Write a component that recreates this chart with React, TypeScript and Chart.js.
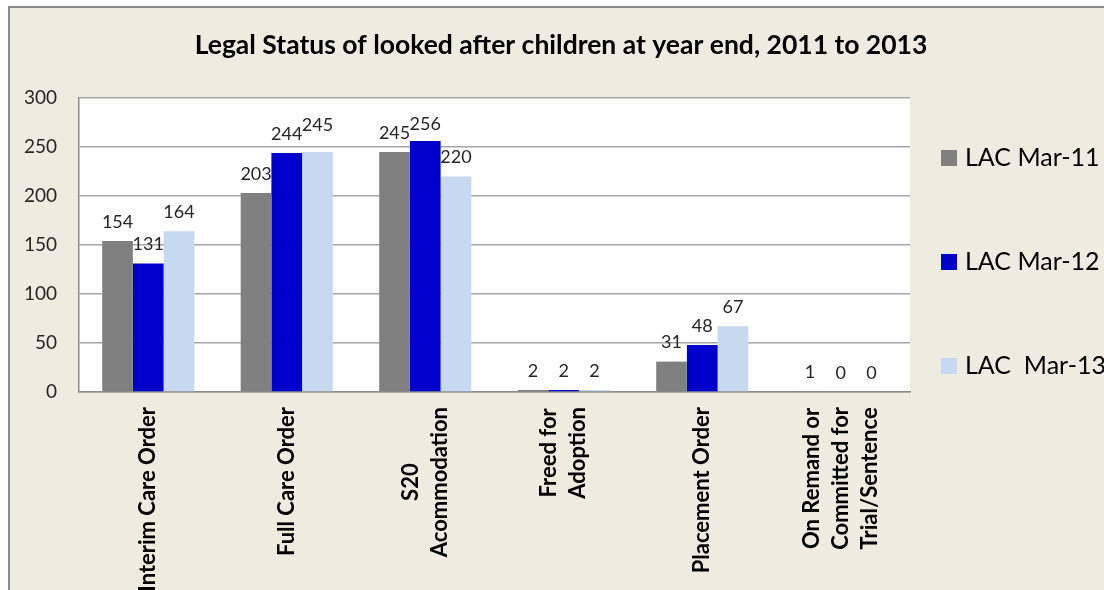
import React, { useEffect, useRef } from "react";
import { Chart, registerables } from "chart.js";

Chart.register(...registerables);

const categories: string[][] = [
  ["Interim Care Order"],
  ["Full Care Order"],
  ["S20", "Acommodation"],
  ["Freed for", "Adoption"],
  ["Placement Order"],
  ["On Remand or", "Committed for", "Trial/Sentence"],
];
const seriesNames = ["LAC Mar-11", "LAC Mar-12", "LAC  Mar-13"];
const lacMar11 = [154, 203, 245, 2, 31, 1];
const lacMar12 = [131, 244, 256, 2, 48, 0];
const lacMar13 = [164, 245, 220, 2, 67, 0];
const seriesColors = ["#808080", "#0000CC", "#C6D9F1"];
const yMin = 0;
const yMax = 300;
const yStep = 50;
const titleText = "Legal Status of looked after children at year end, 2011 to 2013";

const FONT = "Lato, 'Noto Sans', sans-serif";
const W = 1094;
const H = 582;

const customDraw = {
  id: "customDraw",
  beforeDraw(chart: any) {
    const { ctx, chartArea } = chart;
    ctx.save();
    ctx.fillStyle = "#FFFFFF";
    ctx.fillRect(chartArea.left, chartArea.top, chartArea.right - chartArea.left, chartArea.bottom - chartArea.top);
    ctx.restore();
  },
  afterDraw(chart: any) {
    const { ctx, chartArea } = chart;
    ctx.save();
    // title
    ctx.fillStyle = "#000000";
    ctx.font = `bold 26.5px ${FONT}`;
    ctx.textAlign = "center";
    ctx.textBaseline = "middle";
    ctx.fillText(titleText, 551, 37);

    // data labels, nudged upward when they would touch a neighbour
    ctx.font = `18px ${FONT}`;
    ctx.fillStyle = "#262626";
    const nSeries = chart.data.datasets.length;
    const nCats = categories.length;
    for (let j = 0; j < nCats; j++) {
      let prev: { right: number; y: number } | null = null;
      for (let i = 0; i < nSeries; i++) {
        const ds = chart.data.datasets[i];
        const el = chart.getDatasetMeta(i).data[j] as any;
        const txt = String(ds.data[j]);
        const w = ctx.measureText(txt).width;
        let y = el.y - 19;
        const left = el.x - w / 2;
        if (prev && left - prev.right < 5 && Math.abs(prev.y - y) < 12) {
          y = prev.y - 9;
        }
        ctx.fillText(txt, el.x, y);
        prev = { right: el.x + w / 2, y };
      }
    }

    // category labels (rotated)
    const xScale = chart.scales.x;
    ctx.font = `bold 22px ${FONT}`;
    ctx.fillStyle = "#000000";
    const lineH = 29;
    const top = chartArea.bottom + 15;
    categories.forEach((lines, i) => {
      const cx = xScale.getPixelForValue(i);
      const maxW = Math.max(...lines.map((l) => ctx.measureText(l).width));
      const yc = top + maxW / 2;
      lines.forEach((line, k) => {
        const lx = cx + (k - (lines.length - 1) / 2) * lineH;
        ctx.save();
        ctx.translate(lx, yc);
        ctx.rotate(-Math.PI / 2);
        ctx.textAlign = "center";
        ctx.textBaseline = "middle";
        ctx.fillText(line, 0, 0);
        ctx.restore();
      });
    });

    // legend
    ctx.font = `25px ${FONT}`;
    ctx.textAlign = "left";
    ctx.textBaseline = "middle";
    seriesNames.forEach((name, i) => {
      const y = 150 + i * 104;
      ctx.fillStyle = seriesColors[i];
      ctx.fillRect(931, y - 8, 16, 16);
      ctx.fillStyle = "#000000";
      ctx.fillText(name, 955, y);
    });
    ctx.restore();
  },
};

export default function App() {
  const ref = useRef<HTMLCanvasElement | null>(null);
  useEffect(() => {
    document.body.style.overflow = "hidden";
    const chart = new Chart(ref.current as HTMLCanvasElement, {
      type: "bar",
      data: {
        labels: categories.map((c) => c.join(" ")),
        datasets: [
          { label: seriesNames[0], data: lacMar11, backgroundColor: seriesColors[0] },
          { label: seriesNames[1], data: lacMar12, backgroundColor: seriesColors[1] },
          { label: seriesNames[2], data: lacMar13, backgroundColor: seriesColors[2] },
        ],
      },
      options: {
        responsive: false,
        animation: false,
        layout: { padding: { top: 90, right: 194, left: 0, bottom: 0 } },
        datasets: { bar: { categoryPercentage: 0.665, barPercentage: 1 } },
        plugins: {
          legend: { display: false },
          title: { display: false },
          tooltip: { enabled: false },
        },
        scales: {
          x: {
            grid: { display: true, color: "rgba(0,0,0,0)", drawTicks: false },
            border: { display: true, color: "#8c8c8c", width: 1.5 },
            ticks: { display: false },
            afterFit: (s: any) => {
              s.height = 198;
            },
          },
          y: {
            min: yMin,
            max: yMax,
            grid: { color: "#a6a6a6", lineWidth: 1.5, drawTicks: false },
            border: { display: true, color: "#8c8c8c", width: 1.5 },
            ticks: {
              stepSize: yStep,
              padding: 22,
              color: "#262626",
              font: { family: FONT, size: 19 },
            },
            afterFit: (s: any) => {
              s.width = 69;
            },
          },
        },
      },
      plugins: [customDraw],
    });
    return () => chart.destroy();
  }, []);
  return (
    <div
      style={{
        position: "fixed",
        left: 8,
        top: 6,
        width: W,
        height: H,
        borderLeft: "2px solid #8c8c8c",
        borderTop: "2px solid #8c8c8c",
        background: "#EEECE1",
      }}
    >
      <canvas ref={ref} width={W} height={H} style={{ display: "block" }} />
    </div>
  );
}
